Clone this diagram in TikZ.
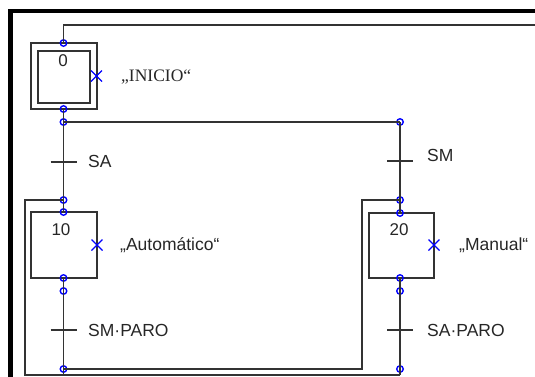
\documentclass[tikz,border=0pt]{standalone}
\usepackage{fontspec}
\setmainfont{Liberation Sans}
\newfontfamily\serifA{Liberation Serif}
\begin{document}
\begin{tikzpicture}[x=1pt,y=-1pt,
  ln/.style={draw=black!80, line width=1.4pt},
  frameline/.style={draw=black, line width=4.5pt},
  stepbox/.style={draw=black!80, line width=1.4pt, minimum width=66pt, minimum height=66pt, inner sep=0pt},
  dot/.style={circle, draw=blue, line width=1.4pt, minimum size=6.5pt, inner sep=0pt},
  lbl/.style={anchor=west, inner sep=0pt, font=\fontsize{17.5}{19}\selectfont, text=black!85},
  num/.style={inner sep=0pt, font=\fontsize{17}{19}\selectfont, text=black!85},
  xmark/.style={draw=blue, line width=1.1pt},
]
\useasboundingbox (0,0) rectangle (535,376);
% outer frame
\coordinate (fBL) at (10.5,380);
\coordinate (fTL) at (10.5,11);
\coordinate (fTR) at (540,11);
\draw[frameline] (fBL) -- (fTL) -- (fTR);

% steps
\node[stepbox] (s0) at (64,76) {};
\node[stepbox, minimum width=52pt, minimum height=52pt] (s0i) at (64,77) {};
\node[stepbox] (s10) at (64,245) {};
\node[stepbox, minimum width=65pt, minimum height=65pt] (s20) at (401.5,245.5) {};

% step numbers
\node[num] (n0) at (63,61) {0};
\node[num] (n10) at (61,230) {10};
\node[num] (n20) at (399,230) {20};

% connection dots
\node[dot] (d0t) at (63.5,43) {};
\node[dot] (d0b) at (63.5,109) {};
\node[dot] (dj1) at (63.5,122) {};
\node[dot] (dj2) at (400,122) {};
\node[dot] (d10a) at (63.5,200) {};
\node[dot] (d10t) at (63.5,212) {};
\node[dot] (d10b) at (63.5,278) {};
\node[dot] (d10c) at (63.5,291) {};
\node[dot] (d10e) at (63.5,369) {};
\node[dot] (d20a) at (400,200) {};
\node[dot] (d20t) at (400,213) {};
\node[dot] (d20b) at (400,278) {};
\node[dot] (d20c) at (400,291) {};
\node[dot] (d20e) at (400,369) {};

% free-end coordinates
\coordinate (topL) at (63.5,25);
\coordinate (topR) at (540,25);
\coordinate (botL) at (63.5,376);
\coordinate (botR) at (400,375);
\coordinate (loopA1) at (362,369);
\coordinate (loopA2) at (362,200);
\coordinate (loopB1) at (25,375);
\coordinate (loopB2) at (25,200);

% links
\draw[ln] (d0t.center) -- (topL) -- (topR);
\draw[ln] (d0b.center) -- (dj1.center) -- (dj2.center);
\draw[ln] (dj1.center) -- (d10a.center) -- (d10t.center);
\draw[ln] (dj2.center) -- (d20a.center) -- (d20t.center);
\draw[ln] (d10b.center) -- (d10c.center) -- (botL);
\draw[ln] (d20b.center) -- (d20c.center) -- (botR);
\draw[ln] (d10e.center) -- (loopA1) -- (loopA2) -- (d20a.center);
\draw[ln] (botR) -- (loopB1) -- (loopB2) -- (d10a.center);

% transitions
\coordinate (tSA) at (63.5,162);
\coordinate (tSM) at (400,161);
\coordinate (tSMP) at (63.5,330);
\coordinate (tSAP) at (400,330);
\foreach \t in {tSA,tSM,tSMP,tSAP}{
  \draw[ln] ([xshift=-13pt]\t) -- ([xshift=13pt]\t);
}
\node[lbl] (lSA) at (88,161) {SA};
\node[lbl] (lSM) at (427,155) {SM};
\node[lbl] (lSMP) at (88,330) {SM·PARO};
\node[lbl] (lSAP) at (427,330) {SA·PARO};

% actions (crosses + labels)
\coordinate (x0) at (96.5,76);
\coordinate (x10) at (97,245);
\coordinate (x20) at (434,245);
\foreach \c in {x0,x10,x20}{
  \draw[xmark] ([shift={(-5.5,-5.5)}]\c) -- ([shift={(5.5,5.5)}]\c);
  \draw[xmark] ([shift={(-5.5,5.5)}]\c) -- ([shift={(5.5,-5.5)}]\c);
}
\node[lbl, font=\serifA\fontsize{17.5}{19}\selectfont] (a0) at (121,77) {„INICIO“};
\node[lbl] (a10) at (120,245) {„Automático“};
\node[lbl] (a20) at (459,245) {„Manual“};
\end{tikzpicture}
\end{document}
